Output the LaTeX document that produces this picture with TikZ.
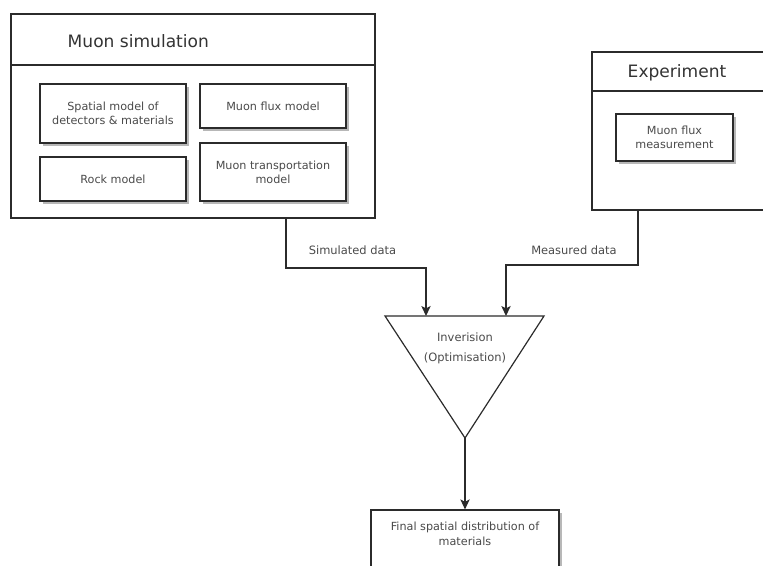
\documentclass[tikz,border=0pt]{standalone}
\usepackage{fontspec}
\setmainfont{DejaVu Sans}
\usetikzlibrary{arrows.meta,shadows}
\definecolor{linegrey}{HTML}{2B2B2B}
\definecolor{textgrey}{HTML}{4A4A4A}
\tikzset{
  frame/.style 2 args={draw=linegrey, line width=0.9pt, fill=white, inner sep=0pt,
    minimum width=#1*0.75pt, minimum height=#2*0.75pt},
  part/.style 2 args={frame={#1}{#2}, align=center, text=textgrey,
    font=\fontsize{8.4}{10.5}\selectfont,
    drop shadow={shadow xshift=2.2pt, shadow yshift=-2.2pt, fill=black!35, opacity=0.8}},
  title/.style={anchor=west, text=black!80, font=\fontsize{12.8}{15}\selectfont},
  flow/.style={draw=linegrey, line width=0.9pt,
    -{Stealth[length=7.5pt, width=7pt, inset=1.8pt]}},
  tag/.style={text=textgrey, font=\fontsize{8.6}{10.5}\selectfont},
}
\begin{document}
\begin{tikzpicture}[x=0.75pt, y=-0.75pt]
  \clip (0,0) rectangle (763,565);

  % simulation block
  \node[frame={364}{204}] (sim) at (193,116) {};
  \draw[draw=linegrey, line width=0.9pt] (sim.west |- 0,65) -- (sim.east |- 0,65);
  \node[title] (simtitle) at (63,41) {Muon simulation};
  \node[part={146}{59}] (spatial) at (113,113.5) {Spatial model of\\detectors \& materials};
  \node[part={146}{44}] (flux) at (273,106) {Muon flux model};
  \node[part={146}{44}] (rock) at (113,179) {Rock model};
  \node[part={146}{58}] (transport) at (273,172) {Muon transportation\\model};

  % experiment block
  \node[frame={193}{158}] (exp) at (688.5,131) {};
  \draw[draw=linegrey, line width=0.9pt] (exp.west |- 0,91) -- (exp.east |- 0,91);
  \node[title] (exptitle) at (623,73) {Experiment};
  \node[part={117}{47}] (measure) at (674.5,137.5) {Muon flux\\measurement};

  % inversion
  \coordinate (invL) at (385,316);
  \coordinate (invR) at (544,316);
  \coordinate (invB) at (465,438);
  \draw[draw=linegrey, line width=0.9pt] (invL) -- (invR) -- (invB) -- cycle;
  \node[tag, align=center, font=\fontsize{8.6}{15}\selectfont] (inv) at (465,348) {Inverision\\(Optimisation)};
  \coordinate (simin) at (invL -| 426,0);
  \coordinate (measin) at (invL -| 506,0);

  % result
  \node[part={188}{70}] (final) at (465,545) {};
  \node[tag, align=center, font=\fontsize{8.4}{11}\selectfont] (finaltext) at (465,534) {Final spatial distribution of\\materials};

  % connectors
  \draw[flow] (sim.south -| 286,0) |- (356,268) -| (simin);
  \draw[flow] (exp.south -| 638,0) |- (570,265) -| (measin);
  \draw[flow] (invB) -- (final.north);
  \node[tag] (simlabel) at (352.5,250) {Simulated data};
  \node[tag] (measlabel) at (574,250) {Measured data};
\end{tikzpicture}
\end{document}
